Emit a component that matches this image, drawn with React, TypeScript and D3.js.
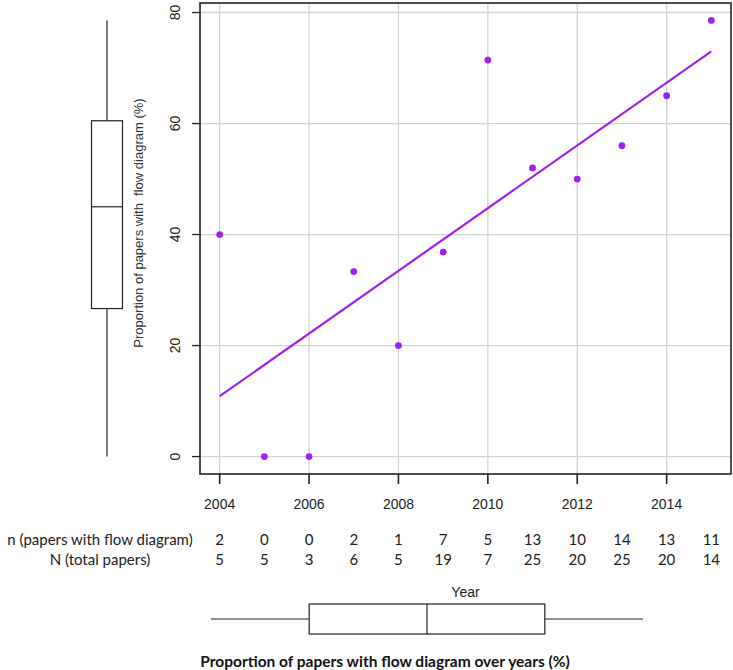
import React from 'react';
import * as d3 from 'd3';

const years = [2004, 2005, 2006, 2007, 2008, 2009, 2010, 2011, 2012, 2013, 2014, 2015];
const nFlow = [2, 0, 0, 2, 1, 7, 5, 13, 10, 14, 13, 11];
const nTotal = [5, 5, 3, 6, 5, 19, 7, 25, 20, 25, 20, 14];
const xTicks = [2004, 2006, 2008, 2010, 2012, 2014];
const yTicks = [0, 20, 40, 60, 80];

const purple = '#A020F0';
const grid = '#D3D3D3';
const rFont = '"Liberation Sans", Arial, sans-serif';
const wFont = 'Lato, "Open Sans", sans-serif';

// Tukey five number summary (same as R's fivenum / boxplot stats)
function fivenum(values: number[]) {
  const s = [...values].sort((a, b) => a - b);
  const n = s.length;
  const n4 = Math.floor((n + 3) / 2) / 2;
  const d = [1, n4, (n + 1) / 2, n + 1 - n4, n];
  return d.map(i => 0.5 * (s[Math.floor(i) - 1] + s[Math.ceil(i) - 1]));
}

export default function App() {
  const W = 733, H = 670;
  const plot = { left: 200, right: 731, top: 3, bottom: 474 };

  const pct = nFlow.map((n, i) => (n / nTotal[i]) * 100);

  const xExt = d3.extent(years) as [number, number];
  const yExt = d3.extent(pct) as [number, number];
  const xPad = (xExt[1] - xExt[0]) * 0.04;
  const yPad = (yExt[1] - yExt[0]) * 0.04;

  const x = d3.scaleLinear().domain([xExt[0] - xPad, xExt[1] + xPad]).range([plot.left, plot.right]);
  const y = d3.scaleLinear().domain([yExt[0] - yPad, yExt[1] + yPad]).range([plot.bottom, plot.top]);

  // least squares fit
  const mx = d3.mean(years)!;
  const my = d3.mean(pct)!;
  const sxy = d3.sum(years, (yr, i) => (yr - mx) * (pct[i] - my));
  const sxx = d3.sum(years, yr => (yr - mx) ** 2);
  const slope = sxy / sxx;
  const fit = (yr: number) => my + slope * (yr - mx);
  const fitLine = d3.line<number>().x(d => x(d)).y(d => y(fit(d)))([xExt[0], xExt[1]]);

  // boxplot of proportions (left, on the y scale)
  const pStats = fivenum(pct);
  const bx = 107, bw = 15.5;

  // boxplot of years (bottom, own scale)
  const yrStats = fivenum(years);
  const xb = d3.scaleLinear().domain(xExt).range([211, 643]);
  const by = 619, bh = 15;

  return (
    <svg width={W} height={H} style={{ position: 'absolute', left: 0, top: 0, background: '#fff' }}>
      {/* grid */}
      {xTicks.map(t => (
        <line key={'gx' + t} x1={x(t)} x2={x(t)} y1={plot.top} y2={plot.bottom} stroke={grid} strokeWidth={1.3} />
      ))}
      {yTicks.map(t => (
        <line key={'gy' + t} x1={plot.left} x2={plot.right} y1={y(t)} y2={y(t)} stroke={grid} strokeWidth={1.3} />
      ))}

      {/* fit + points */}
      <path d={fitLine!} fill="none" stroke={purple} strokeWidth={2.2} />
      {years.map((yr, i) => (
        <circle key={yr} cx={x(yr)} cy={y(pct[i])} r={3.4} fill={purple} />
      ))}

      {/* frame */}
      <rect x={plot.left} y={plot.top} width={plot.right - plot.left} height={plot.bottom - plot.top}
        fill="none" stroke="#222" strokeWidth={1.6} />

      {/* y axis */}
      {yTicks.map(t => (
        <g key={'ty' + t}>
          <line x1={plot.left - 8} x2={plot.left} y1={y(t)} y2={y(t)} stroke="#222" strokeWidth={1.3} />
          <text transform={`translate(${180},${y(t)}) rotate(-90)`} textAnchor="middle"
            fontFamily={rFont} fontSize={14} fill="#222">{t}</text>
        </g>
      ))}
      <text transform="translate(143,223) rotate(-90)" textAnchor="middle" fontFamily={rFont} fontSize={13} fill="#333"
        style={{ whiteSpace: 'pre' }}>
        {'Proportion of papers with  flow diagram (%)'}
      </text>

      {/* x axis */}
      {xTicks.map(t => (
        <g key={'tx' + t}>
          <line x1={x(t)} x2={x(t)} y1={plot.bottom} y2={plot.bottom + 10} stroke="#222" strokeWidth={1.6} />
          <text x={x(t)} y={509} textAnchor="middle" fontFamily={rFont} fontSize={14} fill="#222">{t}</text>
        </g>
      ))}

      {/* n / N table */}
      <text x={100} y={545} textAnchor="middle" fontFamily={wFont} fontSize={15} fill="#222">n (papers with flow diagram)</text>
      <text x={100} y={565} textAnchor="middle" fontFamily={wFont} fontSize={15} fill="#222">N (total papers)</text>
      {years.map((yr, i) => (
        <g key={'tb' + yr}>
          <text x={x(yr)} y={545} textAnchor="middle" fontFamily={wFont} fontSize={15} fill="#222">{nFlow[i]}</text>
          <text x={x(yr)} y={565} textAnchor="middle" fontFamily={wFont} fontSize={15} fill="#222">{nTotal[i]}</text>
        </g>
      ))}

      <text x={(plot.left + plot.right) / 2} y={597} textAnchor="middle" fontFamily={rFont} fontSize={14} fill="#222">Year</text>

      {/* left boxplot */}
      <g stroke="#222" strokeWidth={1.2} fill="none">
        <line x1={bx} x2={bx} y1={y(pStats[0])} y2={y(pStats[1])} />
        <line x1={bx} x2={bx} y1={y(pStats[3])} y2={y(pStats[4])} />
        <rect x={bx - bw} width={bw * 2} y={y(pStats[3])} height={y(pStats[1]) - y(pStats[3])} fill="#fff" />
        <line x1={bx - bw} x2={bx + bw} y1={y(pStats[2])} y2={y(pStats[2])} />
      </g>

      {/* bottom boxplot */}
      <g stroke="#222" strokeWidth={1.2} fill="none">
        <line x1={xb(yrStats[0])} x2={xb(yrStats[1])} y1={by} y2={by} />
        <line x1={xb(yrStats[3])} x2={xb(yrStats[4])} y1={by} y2={by} />
        <rect x={xb(yrStats[1])} width={xb(yrStats[3]) - xb(yrStats[1])} y={by - bh} height={bh * 2} fill="#fff" />
        <line x1={xb(yrStats[2])} x2={xb(yrStats[2])} y1={by - bh} y2={by + bh} />
      </g>

      <text x={385} y={667} textAnchor="middle" fontFamily={wFont} fontWeight="bold" fontSize={15.5} fill="#111">
        Proportion of papers with flow diagram over years (%)
      </text>
    </svg>
  );
}
